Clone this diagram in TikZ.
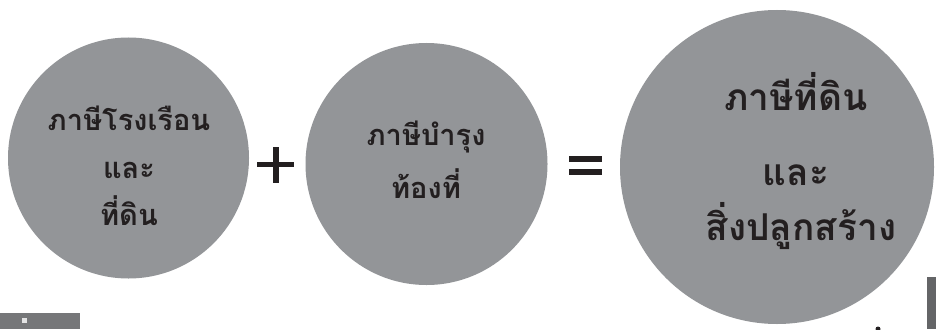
\documentclass[tikz,border=0pt]{standalone}
\usepackage{fontspec}
\newfontfamily\thaifont[Script=Thai]{Loma}
\definecolor{circ}{RGB}{147,149,152}
\definecolor{ink}{RGB}{35,31,32}
\definecolor{bar}{RGB}{118,119,121}
\definecolor{bardark}{RGB}{100,101,103}
\begin{document}
\begin{tikzpicture}[x=1pt,y=-1pt,
  bubble/.style={circle,fill=circ,draw=none,inner sep=0pt},
  txt/.style={text=ink,font=\thaifont\bfseries\fontsize{29}{32}\selectfont,inner sep=0pt,anchor=base},
  bigtxt/.style={text=ink,font=\thaifont\bfseries\fontsize{37}{40}\selectfont,inner sep=0pt,anchor=base},
  sign/.style={fill=ink,draw=none}]
\useasboundingbox (0,0) rectangle (936,329);
\fill[white] (0,0) rectangle (936,329);
% circles
\node[bubble,minimum size=241pt] (c1) at (128.5,158) {};
\node[bubble,minimum size=242pt] (c2) at (426.5,164) {};
\node[bubble,minimum size=314pt] (c3) at (777,167) {};
% texts
\node[txt] (t1a) at (129,130) {ภาษีโรงเรือน};
\node[txt] (t1b) at (129,178) {และ};
\node[txt] (t1c) at (129,225) {ที่ดิน};
\node[txt] (t2a) at (426,145) {ภาษีบำรุง};
\node[txt] (t2b) at (426,198) {ท้องที่};
\node[bigtxt] (t3a) at (796,110) {ภาษีที่ดิน};
\node[bigtxt] (t3b) at (796,185) {และ};
\node[bigtxt] (t3c) at (801,240) {สิ่งปลูกสร้าง};
% plus
\fill[sign] (257,162) rectangle (294,167);
\fill[sign] (273,147) rectangle (279,183);
% equals
\fill[sign] (569,156) rectangle (602,162);
\fill[sign] (569,169) rectangle (602,175);
% page-edge artefacts
\fill[bar] (0,313) rectangle (80,329);
\fill[white!80!bar] (22,318) rectangle (27,323);
\fill[bardark] (927,277) rectangle (936,329);
\fill[ink] (878,329) circle (2.5);
\end{tikzpicture}
\end{document}
